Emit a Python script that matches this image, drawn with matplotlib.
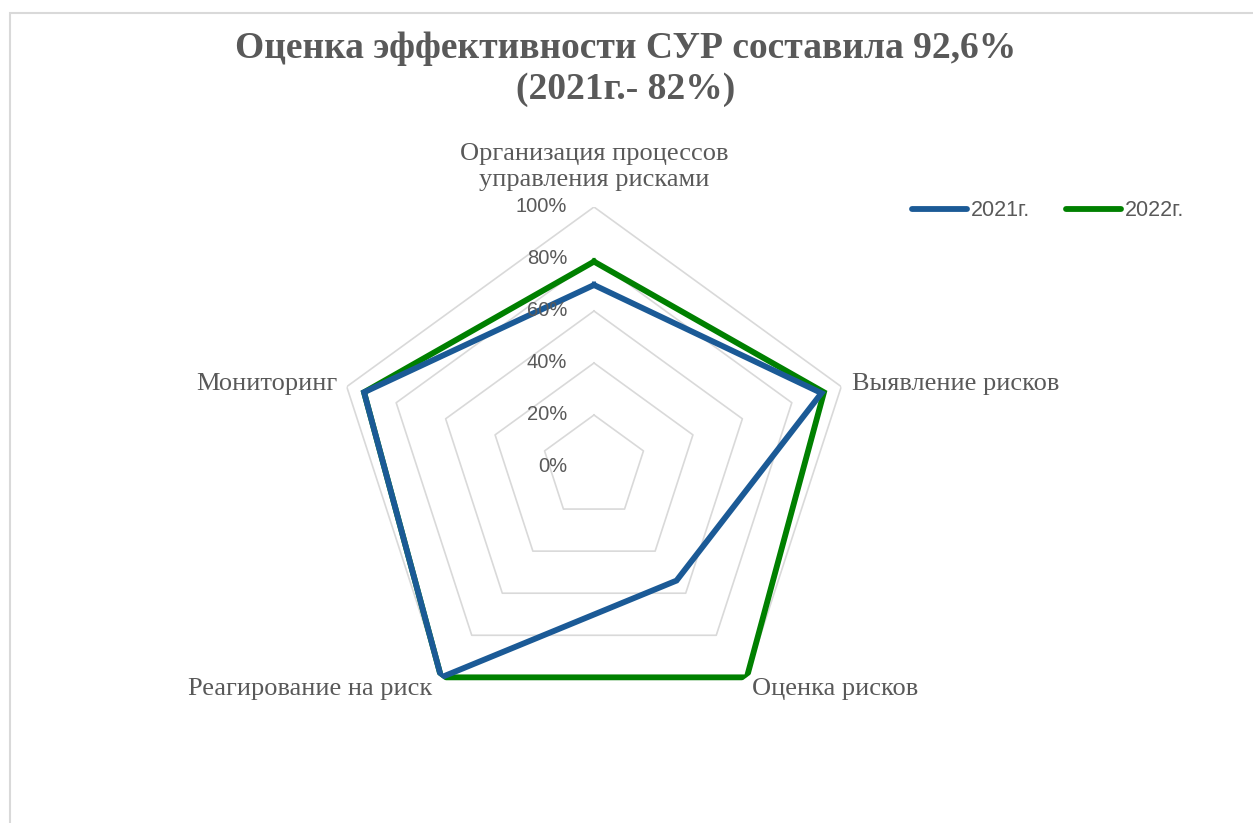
import matplotlib.pyplot as plt
import numpy as np
from matplotlib.patches import Rectangle

categories = ["Организация процессов\nуправления рисками", "Выявление рисков",
              "Оценка рисков", "Реагирование на риск", "Мониторинг"]
values_2021 = [0.70, 0.92, 0.54, 1.00, 0.93]
values_2022 = [0.79, 0.93, 1.00, 1.00, 0.93]
series_names = ["2021г.", "2022г."]
levels = [0.0, 0.2, 0.4, 0.6, 0.8, 1.0]
level_labels = ["0%", "20%", "40%", "60%", "80%", "100%"]

gray_text = "#595959"
grid_col = "#D9D9D9"
blue = "#1B5A96"
green = "#008000"

W, H = 1253, 823
fig = plt.figure(figsize=(W / 100, H / 100), dpi=100)

# light chart-area border (cut off on right and bottom like in the original)
fig.patches.append(Rectangle((10 / W, -0.1), 1.2, 1.1 - 13 / H, transform=fig.transFigure,
                             fill=False, edgecolor=grid_col, linewidth=1.5))

cx, cy, rad = 594, 467, 260
ax = fig.add_axes([(cx - rad) / W, (H - cy - rad) / H, 2 * rad / W, 2 * rad / H],
                  projection="polar")
ax.set_theta_zero_location("N")
ax.set_theta_direction(-1)
ax.set_ylim(0, 1)
ax.grid(False)
ax.spines["polar"].set_visible(False)
ax.set_xticks([])
ax.set_yticks([])
ax.patch.set_alpha(0)

n = len(categories)
angles = np.linspace(0, 2 * np.pi, n, endpoint=False)
closed = np.append(angles, angles[0])

for lv in levels[1:]:
    ax.plot(closed, [lv] * (n + 1), color=grid_col, lw=1.2, zorder=1)

ax.plot(closed, values_2021 + values_2021[:1], color=blue, lw=4.2,
        solid_joinstyle="miter", label=series_names[0], zorder=3)
ax.plot(closed, values_2022 + values_2022[:1], color=green, lw=4.2,
        solid_joinstyle="miter", label=series_names[1], zorder=2)

for lv, lab in zip(levels, level_labels):
    ax.annotate(lab, xy=(0, lv), xytext=(-27, 0), textcoords="offset pixels",
                ha="right", va="center", fontsize=14.5, color=gray_text,
                family="Liberation Sans", zorder=4)

label_offsets = [((0, 16), "center", "bottom"), ((11, 3), "left", "center"),
                 ((5, -12), "left", "center"), ((-9, -12), "right", "center"),
                 ((-9, 3), "right", "center")]
for ang, cat, (off, ha, va) in zip(angles, categories, label_offsets):
    ax.annotate(cat, xy=(ang, 1.0), xytext=off, textcoords="offset pixels",
                ha=ha, va=va, fontsize=19, color=gray_text, family="Liberation Serif",
                linespacing=1.25, annotation_clip=False)

leg = fig.legend(loc="center left", bbox_to_anchor=(893 / W, 1 - 211 / H), ncol=2,
                 frameon=False, handlelength=2.55, columnspacing=1.7, handletextpad=0.15,
                 prop={"family": "Liberation Sans", "size": 15.5})
for t in leg.get_texts():
    t.set_color(gray_text)
for h in leg.get_lines():
    h.set_linewidth(4.2)
    h.set_solid_capstyle("round")

fig.suptitle("Оценка эффективности СУР составила 92,6%\n(2021г.- 82%)",
             x=626 / W, y=1 - 31 / H, fontsize=27, fontweight="bold", color=gray_text,
             family="Liberation Serif", linespacing=1.2)

fig.savefig("out.png", dpi=100)
